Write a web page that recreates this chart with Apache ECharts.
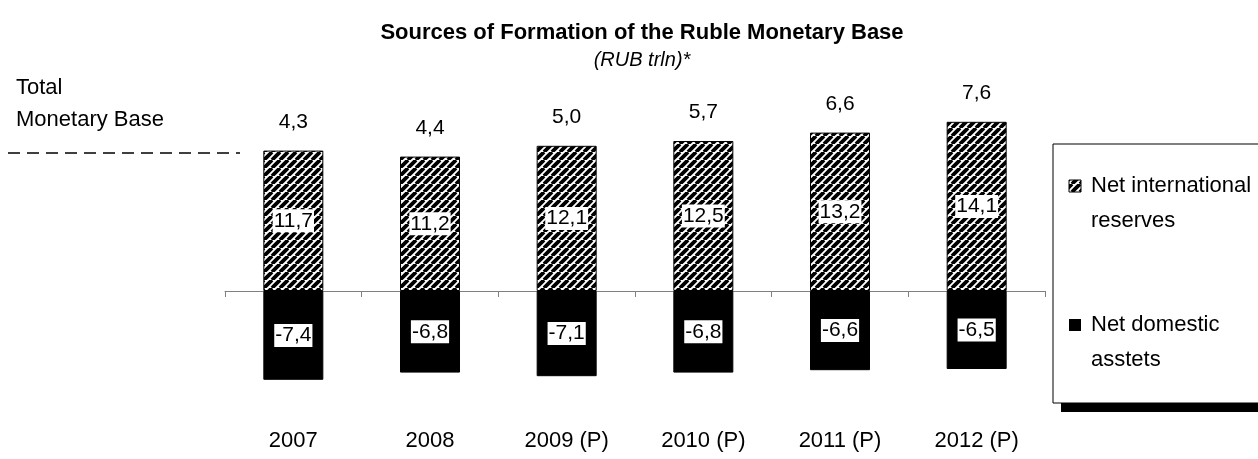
<!DOCTYPE html>
<html>
<head>
<meta charset="utf-8">
<title>Sources of Formation of the Ruble Monetary Base</title>
<script src="https://cdn.jsdelivr.net/npm/echarts@6/dist/echarts.min.js"></script>
<style>
  html,body{margin:0;padding:0;background:#fff;}
  #chart{width:1258px;height:459px;}
</style>
</head>
<body>
<div id="chart"></div>
<script>
var years = ['2007', '2008', '2009 (P)', '2010 (P)', '2011 (P)', '2012 (P)'];
var reserves = [11.7, 11.2, 12.1, 12.5, 13.2, 14.1];
var domestic = [-7.4, -6.8, -7.1, -6.8, -6.6, -6.5];
var totals = [4.3, 4.4, 5.0, 5.7, 6.6, 7.6];

var FONT = "'Liberation Sans', Arial, sans-serif";

function fmt(v){
  return v.toFixed(1).replace('.', ',');
}

// diagonal hatch tile like the excel pattern fill
function hatch(size, w){
  var c = document.createElement('canvas');
  c.width = size; c.height = size;
  var g = c.getContext('2d');
  g.fillStyle = '#fff';
  g.fillRect(0, 0, size, size);
  g.strokeStyle = '#000';
  g.lineWidth = w;
  g.beginPath();
  for (var k = -1; k <= 1; k++){
    g.moveTo(k * size, size);
    g.lineTo(k * size + size, 0);
  }
  g.stroke();
  return {image: c, repeat: 'repeat'};
}
var stripes = hatch(8, 3.8);

var chart = echarts.init(document.getElementById('chart'));
var option = {
  animation: false,
  title: {
    text: 'Sources of Formation of the Ruble Monetary Base',
    subtext: '(RUB trln)*',
    left: 637,
    textAlign: 'center',
    top: 17,
    itemGap: 6,
    textStyle: {fontFamily: FONT, fontSize: 22, fontWeight: 'bold', color: '#000'},
    subtextStyle: {fontFamily: FONT, fontSize: 20, fontStyle: 'italic', color: '#000'}
  },
  grid: {left: 225, right: 213, top: 111, bottom: 48, outerBoundsMode: 'none'},
  xAxis: {
    type: 'category',
    data: years,
    axisLine: {onZero: true, lineStyle: {color: '#808080', width: 1}},
    axisTick: {show: true, length: 6, lineStyle: {color: '#808080'}},
    axisLabel: {fontFamily: FONT, fontSize: 22, color: '#000', margin: 19}
  },
  yAxis: {
    type: 'value',
    min: -10,
    max: 15,
    show: false
  },
  graphic: [
    {
      type: 'text', left: 16, top: 72,
      style: {text: 'Total\nMonetary Base', font: '22px ' + FONT, fill: '#000', lineHeight: 32}
    },
    {
      type: 'line',
      shape: {x1: 8, y1: 153, x2: 240, y2: 153},
      style: {stroke: '#000', lineWidth: 1.5, lineDash: [12, 7]}
    },
    // legend box with its shadow
    {type: 'rect', shape: {x: 1061, y: 152, width: 220, height: 260}, style: {fill: '#000'}},
    {type: 'rect', shape: {x: 1053, y: 144, width: 230, height: 259}, style: {fill: '#fff', stroke: '#000', lineWidth: 1}},
    {type: 'rect', shape: {x: 1069, y: 180, width: 12, height: 12}, style: {fill: stripes, stroke: '#000', lineWidth: 1}},
    {
      type: 'text', x: 1091, y: 168,
      style: {text: 'Net international\nreserves', font: '22px ' + FONT, fill: '#000', lineHeight: 35}
    },
    {type: 'rect', shape: {x: 1069, y: 319, width: 12, height: 12}, style: {fill: '#000'}},
    {
      type: 'text', x: 1091, y: 307,
      style: {text: 'Net domestic\nasstets', font: '22px ' + FONT, fill: '#000', lineHeight: 35}
    }
  ],
  series: [
    {
      name: 'Net international reserves',
      type: 'bar',
      stack: 'base',
      data: reserves,
      barWidth: 60,
      itemStyle: {color: stripes, borderColor: '#000', borderWidth: 1},
      label: {
        show: true,
        position: 'inside',
        formatter: function(p){ return fmt(p.value); },
        backgroundColor: '#fff',
        color: '#000',
        fontFamily: FONT,
        fontSize: 21,
        padding: [2, 1, 0, 1]
      }
    },
    {
      name: 'Net domestic asstets',
      type: 'bar',
      stack: 'base',
      data: domestic,
      barWidth: 60,
      itemStyle: {color: '#000', borderColor: '#000', borderWidth: 1},
      label: {
        show: true,
        position: 'inside',
        formatter: function(p){ return fmt(p.value); },
        backgroundColor: '#fff',
        color: '#000',
        fontFamily: FONT,
        fontSize: 21,
        padding: [2, 1, 0, 1]
      }
    },
    {
      // totals written above each column
      name: 'Total',
      type: 'scatter',
      data: reserves,
      symbolSize: 0,
      silent: true,
      itemStyle: {color: '#000', opacity: 1},
      label: {
        show: true,
        position: 'top',
        distance: 18,
        formatter: function(p){ return fmt(totals[p.dataIndex]); },
        color: '#000',
        fontFamily: FONT,
        fontSize: 21
      }
    }
  ]
};
chart.setOption(option);
</script>
</body>
</html>
